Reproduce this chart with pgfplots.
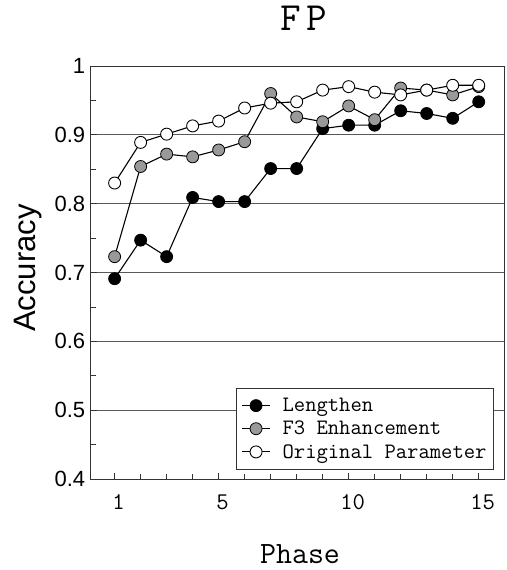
\documentclass[border=0pt]{standalone}
\usepackage{fontspec}
\newfontfamily\sansf{Liberation Sans}
\usepackage{pgfplots}
\pgfplotsset{compat=1.18}

\pgfplotstableread{
phase lengthen f3 orig
1  0.691 0.723 0.830
2  0.747 0.854 0.889
3  0.723 0.872 0.901
4  0.809 0.868 0.913
5  0.803 0.878 0.920
6  0.803 0.890 0.939
7  0.851 0.960 0.946
8  0.851 0.926 0.948
9  0.909 0.919 0.965
10 0.914 0.942 0.970
11 0.914 0.922 0.962
12 0.935 0.968 0.958
13 0.931 0.965 0.965
14 0.924 0.958 0.972
15 0.948 0.970 0.972
}\fpdata

\begin{document}
\begin{tikzpicture}
\useasboundingbox (-90.7pt,-91pt) rectangle (415.3pt,479pt);
\begin{axis}[
    at={(0pt,0pt)}, anchor=south west,
    width=414pt, height=413pt, scale only axis,
    xmin=0.08, xmax=16, ymin=0.4, ymax=1,
    axis line style={black!80, line width=0.9pt},
    xtick={1,5,10,15}, minor xtick={2,3,4,6,7,8,9,11,12,13,14},
    ytick={0.4,0.5,0.6,0.7,0.8,0.9,1},
    yticklabels={0.4,0.5,0.6,0.7,0.8,0.9,1},
    minor ytick={0.45,0.55,0.65,0.75,0.85,0.95},
    xtick pos=bottom, ytick pos=left, tick align=inside,
    major tick length=6pt, minor tick length=5pt,
    tick style={black!80, line width=0.8pt},
    ymajorgrids, major grid style={black!65, line width=0.8pt},
    /pgf/number format/assume math mode=true,
    xticklabel style={font=\ttfamily\fontsize{24}{24}\selectfont, xshift=4pt, yshift=-12pt},
    yticklabel style={font=\sansf\fontsize{22}{22}\selectfont, xshift=-2pt},
    title={F\kern5pt P},
    title style={font=\ttfamily\fontsize{40}{40}\selectfont, at={(axis description cs:0.515,1)}, anchor=base, yshift=30pt},
    xlabel={Phase},
    xlabel style={font=\ttfamily\fontsize{31}{31}\selectfont, at={(axis description cs:0.5056,-0.2034)}, anchor=base},
    ylabel={Accuracy},
    ylabel style={font=\sansf\fontsize{31}{31}\selectfont, at={(axis description cs:-0.1345,0.511)}, anchor=base, rotate=0},
    legend style={at={(0.974,0.022)}, anchor=south east, draw=black!80, line width=0.8pt,
        font=\ttfamily\fontsize{22}{22}\selectfont, inner xsep=5pt, inner ysep=8pt,
        cells={anchor=west}, row sep=4pt},
    legend image code/.code={\draw[mark repeat=2, mark phase=2, #1] plot coordinates {(0pt,0pt) (14pt,0pt) (28pt,0pt)};},
    every axis plot/.append style={line width=1.1pt, black},
    clip=false,
]
\addplot[mark=*, mark size=6pt, mark options={fill=black, draw=black, line width=0.8pt}]
    table[x=phase, y=lengthen] {\fpdata};
\addplot[mark=*, mark size=6pt, mark options={fill=black!40, draw=black, line width=0.8pt}]
    table[x=phase, y=f3] {\fpdata};
\addplot[mark=*, mark size=6pt, mark options={fill=white, draw=black, line width=0.9pt}]
    table[x=phase, y=orig] {\fpdata};
\legend{\hspace{10pt}Lengthen, \hspace{10pt}F3 Enhancement, \hspace{10pt}Original Parameter}
\end{axis}
\end{tikzpicture}
\end{document}
